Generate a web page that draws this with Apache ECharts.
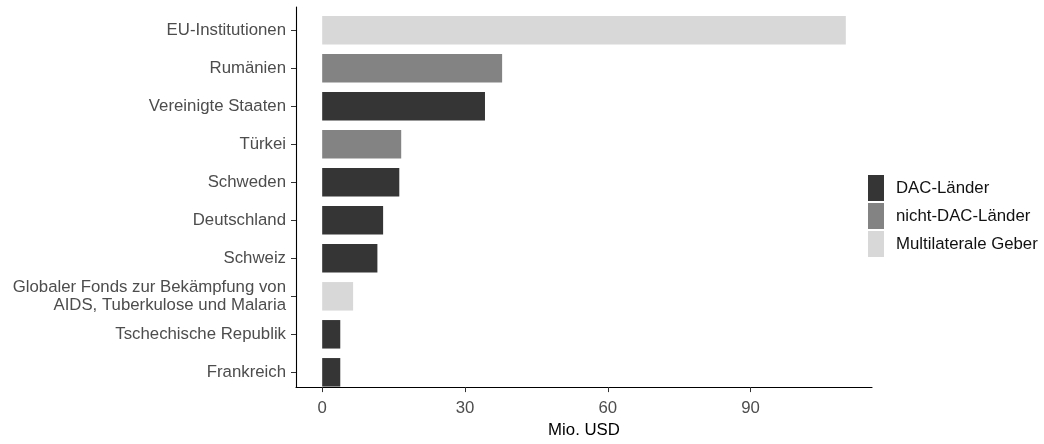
<!DOCTYPE html>
<html>
<head>
<meta charset="utf-8">
<script src="https://cdn.jsdelivr.net/npm/echarts@6/dist/echarts.min.js"></script>
<style>
  html, body { margin: 0; padding: 0; background: #fff; }
  #chart { width: 1044px; height: 444px; }
</style>
</head>
<body>
<div id="chart"></div>
<script>
// Kategorien von oben nach unten
var categories = [
    "EU-Institutionen",
    "Rumänien",
    "Vereinigte Staaten",
    "Türkei",
    "Schweden",
    "Deutschland",
    "Schweiz",
    "Globaler Fonds zur Bekämpfung von\nAIDS, Tuberkulose und Malaria",
    "Tschechische Republik",
    "Frankreich"
];
var values = [110, 37.8, 34.2, 16.6, 16.2, 12.8, 11.6, 6.5, 3.8, 3.8];
var groups = [
    "Multilaterale Geber", "nicht-DAC-Länder", "DAC-Länder", "nicht-DAC-Länder",
    "DAC-Länder", "DAC-Länder", "DAC-Länder", "Multilaterale Geber",
    "DAC-Länder", "DAC-Länder"
];
var groupNames = ["DAC-Länder", "nicht-DAC-Länder", "Multilaterale Geber"];
var groupColors = ["#353535", "#838383", "#d8d8d8"];
var xTicks = [0, 30, 60, 90];

var font = "Liberation Sans, Arial, sans-serif";
var fs = 16.8;

var series = groupNames.map(function (g, k) {
    return {
        name: g,
        type: "bar",
        stack: "total",
        xAxisIndex: 0,
        yAxisIndex: 0,
        barWidth: "75%",
        itemStyle: { color: groupColors[k] },
        data: values.map(function (v, i) { return groups[i] === g ? v : null; })
    };
});

var chart = echarts.init(document.getElementById("chart"), null, { renderer: "canvas" });
chart.setOption({
    animation: false,
    textStyle: { fontFamily: font },
    grid: [
        // Balken
        { left: 296, right: 172, top: 11.3, bottom: 52.7 },
        // Achsenrahmen (ggplot-Expansion)
        { left: 296, right: 172, top: 7, bottom: 49.5 }
    ],
    legend: {
        orient: "vertical",
        left: 863,
        top: 170,
        icon: "rect",
        itemWidth: 16,
        itemHeight: 26,
        itemGap: 2,
        data: groupNames,
        textStyle: { fontFamily: font, fontSize: fs, color: "#111", padding: [0, 0, 0, 7] }
    },
    xAxis: [
        {
            gridIndex: 0, type: "value", min: -5.5, max: 115.5, show: false
        },
        {
            gridIndex: 1, type: "value", min: -5.5, max: 115.5,
            axisLine: { show: true, onZero: false, lineStyle: { color: "#000", width: 1.1 } },
            axisTick: { show: true, length: 5, customValues: xTicks, lineStyle: { color: "#333" } },
            axisLabel: { customValues: xTicks, margin: 13, color: "#4d4d4d", fontSize: fs, fontFamily: font },
            splitLine: { show: false },
            name: "Mio. USD",
            nameLocation: "middle",
            nameGap: 30,
            nameTextStyle: { color: "#000", fontSize: fs, fontFamily: font }
        }
    ],
    yAxis: [
        {
            gridIndex: 0, type: "category", data: categories, inverse: true,
            axisLine: { show: false, onZero: false },
            axisTick: {
                show: true, alignWithLabel: true, length: 5,
                interval: function (i, v) { return v != null; },
                lineStyle: { color: "#333" }
            },
            axisLabel: { margin: 10, color: "#4d4d4d", fontSize: fs, fontFamily: font, lineHeight: 18, align: "right" }
        },
        {
            gridIndex: 1, type: "value", min: 0, max: 1,
            axisLine: { show: true, onZero: false, lineStyle: { color: "#000", width: 1.1 } },
            axisTick: { show: false },
            axisLabel: { show: false },
            splitLine: { show: false }
        }
    ],
    series: series
});
</script>
</body>
</html>
